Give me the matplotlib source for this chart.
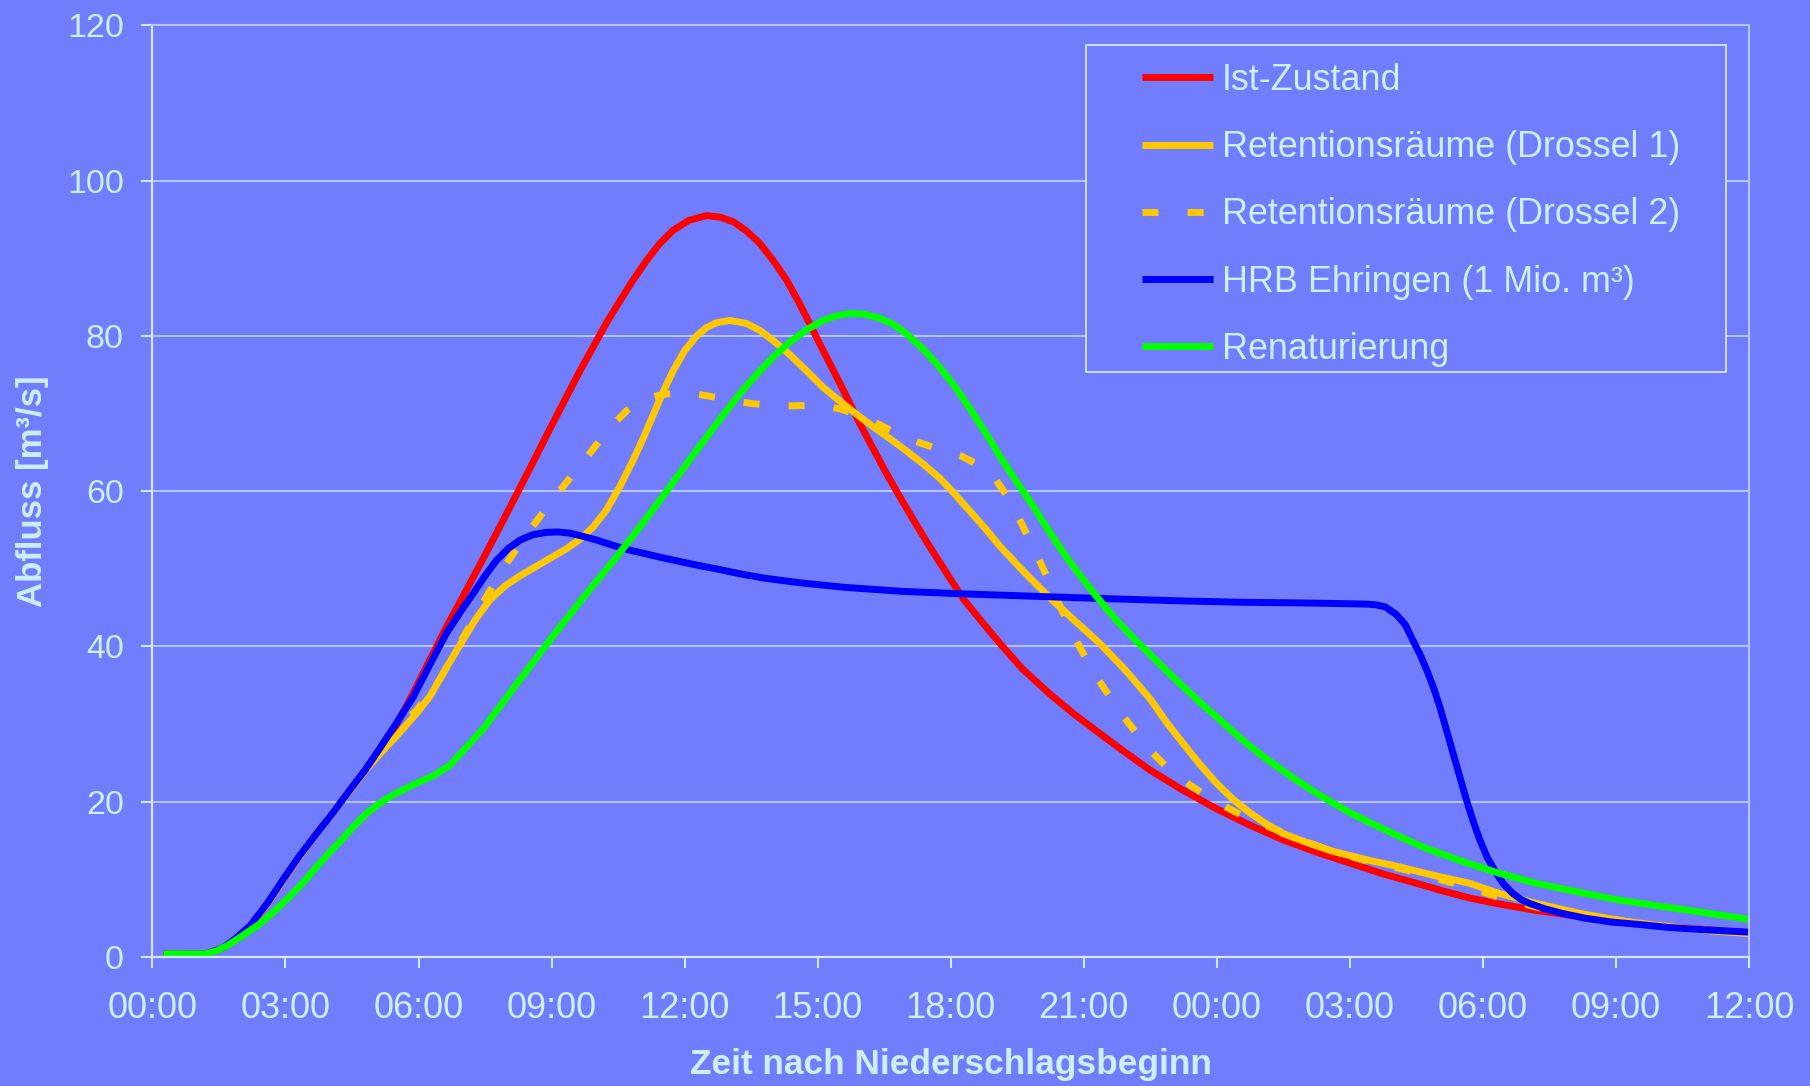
import matplotlib.pyplot as plt
from matplotlib.patches import Rectangle

# hours after start of rainfall and discharge in m3/s
t_ist = [0.25, 1.2, 1.6, 1.9, 2.2, 2.6, 2.95, 3.3, 3.7, 4.1, 4.45, 4.8, 5.2, 5.55, 5.88, 6.25,
         6.63, 7.0, 7.39, 7.76, 8.14, 8.5, 8.89, 9.34, 9.64, 9.94, 10.24, 10.54, 10.84, 11.14,
         11.44, 11.74, 12.1, 12.5, 12.8, 13.1, 13.4, 13.7, 14.0, 14.3, 14.56, 14.82, 15.08,
         15.35, 15.65, 15.95, 16.25, 16.55, 16.85, 17.15, 17.5, 17.98, 18.3, 18.7, 19.11, 19.6,
         20.23, 20.8, 21.36, 21.9, 22.49, 23.2, 23.99, 24.74, 25.49, 26.25, 27.0, 27.75, 28.5,
         29.1, 29.7, 30.3, 31.2, 32.2, 33.2, 34.2, 35.1, 36.0]
q_ist = [0.4, 0.4, 1.2, 2.4, 3.9, 6.9, 9.9, 12.8, 15.9, 18.8, 21.5, 24.1, 27.1, 30.4, 34.0, 38.2,
         42.5, 46.4, 50.6, 54.6, 58.8, 62.8, 67.2, 72.2, 75.5, 78.6, 81.7, 84.5, 87.2, 89.7,
         91.9, 93.6, 94.9, 95.5, 95.3, 94.7, 93.5, 91.9, 89.7, 87.2, 84.5, 81.6, 78.6,
         75.6, 72.2, 68.7, 65.5, 62.3, 59.3, 56.4, 53.1, 48.8, 46.0, 43.2, 40.4, 37.2,
         33.9, 31.2, 28.8, 26.5, 24.1, 21.6, 19.1, 17.0, 15.1, 13.5, 12.1, 10.7, 9.5,
         8.5, 7.6, 6.9, 6.0, 5.2, 4.5, 3.9, 3.5, 3.1]

t_dr1 = [0.25, 1.2, 1.6, 1.9, 2.2, 2.6, 2.95, 3.3, 3.7, 4.1, 4.45, 4.8, 5.15, 5.51, 5.96, 6.26,
         6.63, 7.01, 7.3, 7.61, 7.95, 8.29, 8.65, 9.04, 9.34, 9.64, 9.94, 10.24, 10.54, 10.84,
         11.05, 11.29, 11.5, 11.74, 12.0, 12.27, 12.5, 12.72, 13.02, 13.4, 13.7, 14.0, 14.37,
         14.75, 15.12, 15.5, 15.88, 16.25, 16.62, 17.0, 17.38, 17.75, 18.05, 18.36, 18.75, 19.11,
         19.67, 20.23, 20.8, 21.36, 21.9, 22.49, 22.87, 23.24, 23.62, 23.99, 24.37, 24.74, 25.1,
         25.49, 26.05, 26.62, 27.4, 28.12, 28.9, 29.7, 30.3, 31.2, 32.2, 33.2, 34.2, 35.1, 36.0]
q_dr1 = [0.4, 0.4, 1.2, 2.4, 3.9, 6.9, 9.9, 12.8, 15.9, 18.8, 21.4, 24.0, 26.3, 28.5, 31.4, 33.6,
         37.3, 40.9, 43.6, 46.0, 47.8, 49.1, 50.3, 51.6, 52.6, 53.8, 55.4, 57.6, 60.6, 64.0,
         66.6, 69.8, 72.6, 75.5, 78.1, 80.0, 81.1, 81.7, 82.0, 81.6, 80.7, 79.4, 77.6,
         75.5, 73.4, 71.6, 69.9, 68.3, 66.8, 65.2, 63.5, 61.7, 59.9, 57.9, 55.4, 52.9,
         49.5, 46.3, 43.3, 40.4, 37.2, 33.3, 30.2, 27.5, 24.8, 22.4, 20.3, 18.6, 17.2,
         15.9, 14.7, 13.6, 12.5, 11.6, 10.5, 9.5, 8.3, 6.9, 5.6, 4.6, 3.9, 3.4, 3.0]

t_dr2 = [0.25, 1.2, 1.6, 1.9, 2.2, 2.6, 2.95, 3.3, 3.7, 4.1, 4.45, 4.8, 5.2, 5.55, 5.96, 6.44,
         6.93, 7.42, 7.91, 8.51, 9.08, 9.71, 10.32, 10.7, 11.07, 11.55, 12.04, 12.5, 12.98,
         13.5, 14.0, 14.5, 15.01, 15.5, 15.99, 16.42, 16.85, 17.32, 17.79, 18.25, 18.69, 19.0,
         19.33, 19.55, 19.78, 20.0, 20.2, 20.4, 20.61, 20.83, 21.06, 21.32, 21.59, 21.88, 22.19,
         22.5, 22.83, 23.2, 23.62, 24.05, 24.48, 24.9, 25.38, 25.85, 26.32, 26.8, 27.3, 27.8,
         28.28, 28.75, 29.21, 29.8, 30.3, 30.8, 31.3, 32.2, 33.2, 34.2, 35.1, 36.0]
q_dr2 = [0.4, 0.4, 1.2, 2.4, 3.9, 6.9, 9.9, 12.8, 15.9, 18.8, 21.4, 24.0, 27.0, 29.6, 31.8, 35.3,
         40.4, 45.3, 50.1, 55.0, 59.3, 63.8, 68.2, 70.4, 71.9, 72.5, 72.7, 72.3, 71.8,
         71.3, 71.0, 71.0, 71.1, 70.6, 69.7, 68.5, 67.2, 66.2, 65.3, 64.5, 63.2, 61.6,
         58.9, 56.4, 53.7, 51.1, 48.6, 46.0, 43.4, 40.8, 38.3, 35.8, 33.5, 31.1, 28.8,
         26.6, 24.7, 22.9, 21.3, 19.8, 18.5, 17.4, 16.3, 15.2, 14.2, 13.3, 12.5, 11.8,
         11.2, 10.4, 9.7, 8.8, 7.8, 7.0, 6.3, 5.5, 4.6, 3.9, 3.4, 3.0]

t_hrb = [0.25, 1.2, 1.6, 1.9, 2.2, 2.6, 2.95, 3.3, 3.7, 4.1, 4.45, 4.8, 5.13, 5.5, 5.88, 6.25,
         6.63, 6.95, 7.23, 7.5, 7.76, 8.02, 8.29, 8.58, 8.89, 9.15, 9.41, 9.7, 10.02, 10.4,
         10.77, 11.15, 11.52, 11.93, 12.34, 12.8, 13.3, 13.8, 14.6, 15.64, 16.9, 18.16, 19.7,
         21.28, 23.0, 24.5, 26.0, 27.0, 27.4, 27.6, 27.8, 28.05, 28.25, 28.42, 28.58, 28.73,
         28.88, 29.03, 29.18, 29.33, 29.48, 29.63, 29.78, 29.93, 30.1, 30.3, 30.48, 30.67,
         30.86, 31.05, 31.4, 31.8, 32.3, 32.9, 33.5, 34.2, 35.0, 36.0]
q_hrb = [0.4, 0.4, 1.2, 2.5, 4.0, 7.0, 10.0, 12.9, 15.9, 18.8, 21.5, 24.1, 26.9, 30.1, 33.5, 37.6,
         41.7, 44.5, 46.8, 49.1, 51.1, 52.6, 53.7, 54.4, 54.7, 54.75, 54.6, 54.2, 53.7, 53.0,
         52.4, 51.9, 51.4, 50.9, 50.4, 49.9, 49.3, 48.8, 48.2, 47.6, 47.1, 46.8, 46.5,
         46.2, 45.9, 45.7, 45.6, 45.5, 45.45, 45.35, 45.1, 44.1, 42.8, 40.8, 39.0, 37.0,
         34.8, 32.2, 29.2, 26.2, 23.2, 20.2, 17.5, 15.1, 12.8, 10.8, 9.3, 8.2,
         7.4, 6.9, 6.2, 5.6, 5.0, 4.5, 4.2, 3.8, 3.5, 3.2]

t_ren = [0.25, 1.2, 1.45, 1.7, 2.05, 2.43, 2.75, 3.1, 3.4, 3.7, 4.0, 4.3, 4.55, 4.83, 5.1, 5.4,
         5.68, 5.96, 6.35, 6.71, 7.01, 7.46, 7.8, 8.14, 8.55, 8.96, 9.26, 9.8, 10.39, 10.8,
         11.15, 11.48, 11.8, 12.12, 12.5, 12.87, 13.25, 13.62, 14.0, 14.37, 14.75, 15.12, 15.42,
         15.73, 16.05, 16.4, 16.7, 17.0, 17.38, 17.75, 18.13, 18.51, 18.81, 19.11, 19.5, 19.87,
         20.2, 20.6, 20.95, 21.28, 21.7, 22.1, 22.49, 22.9, 23.32, 23.7, 24.0, 24.37, 24.74,
         25.1, 25.49, 25.87, 26.25, 26.6, 27.0, 27.38, 27.75, 28.2, 28.72, 29.2, 29.7, 30.3,
         31.2, 32.2, 33.1, 34.05, 35.0, 36.0]
q_ren = [0.4, 0.4, 0.8, 1.5, 2.8, 4.3, 5.9, 7.8, 9.6, 11.6, 13.5, 15.3, 16.9, 18.5, 19.7, 20.8,
         21.6, 22.4, 23.4, 24.7, 26.6, 29.4, 32.0, 34.6, 37.7, 40.8, 43.0, 46.9, 51.0, 54.0,
         56.6, 59.1, 61.6, 64.1, 67.0, 69.8, 72.6, 75.0, 77.3, 79.2, 80.8, 82.0, 82.6,
         82.9, 82.8, 82.3, 81.5, 80.3, 78.3, 76.0, 73.2, 70.0, 67.3, 64.5, 61.1, 58.0,
         55.0, 51.6, 48.9, 46.5, 43.6, 41.2, 39.0, 36.7, 34.4, 32.4, 30.9, 29.0, 27.2,
         25.6, 24.0, 22.5, 21.1, 19.9, 18.6, 17.5, 16.5, 15.3, 14.0, 13.0, 12.0, 10.9,
         9.5, 8.3, 7.3, 6.5, 5.7, 4.85]

labels = ['Ist-Zustand', 'Retentionsräume (Drossel 1)', 'Retentionsräume (Drossel 2)',
          'HRB Ehringen (1 Mio. m³)', 'Renaturierung']
x_ticks = [0, 3, 6, 9, 12, 15, 18, 21, 24, 27, 30, 33, 36]
x_ticklabels = ['00:00', '03:00', '06:00', '09:00', '12:00', '15:00', '18:00',
                '21:00', '00:00', '03:00', '06:00', '09:00', '12:00']
y_ticks = [0, 20, 40, 60, 80, 100, 120]

bg = '#717DFC'
txt = '#CCEEFF'
gridc = '#B4C2FF'
axc = '#D4E6FF'

plt.rcParams['font.family'] = ['Liberation Sans', 'DejaVu Sans']

fig = plt.figure(figsize=(18.1, 10.86), dpi=100, facecolor=bg)
ax = fig.add_axes([0.0842, 0.1188, 0.8821, 0.8578])
ax.set_facecolor(bg)

lw = 5.0
kw = dict(lw=lw, solid_joinstyle='round', solid_capstyle='butt')
ax.plot(t_ist, q_ist, color='#FF0000', label=labels[0], **kw)
ax.plot(t_dr1, q_dr1, color='#FFC800', label=labels[1], **kw)
ax.plot(t_dr2, q_dr2, color='#FFC800', lw=lw, linestyle=(0, (2.3, 4.2)),
        dash_capstyle='butt', label=labels[2])
ax.plot(t_hrb, q_hrb, color='#0000FF', label=labels[3], **kw)
ax.plot(t_ren, q_ren, color='#00FF00', label=labels[4], **kw)

ax.set_xlim(0, 36)
ax.set_ylim(0, 120)
ax.set_xticks(x_ticks)
ax.set_xticklabels(x_ticklabels)
ax.set_yticks(y_ticks)
ax.yaxis.grid(True, color=gridc, lw=1.5)
ax.set_axisbelow(True)

for s in ['left', 'bottom']:
    ax.spines[s].set_color(axc)
    ax.spines[s].set_linewidth(1.6)
for s in ['top', 'right']:
    ax.spines[s].set_color(gridc)
    ax.spines[s].set_linewidth(1.5)

ax.tick_params(axis='both', colors=axc, labelcolor=txt, length=8, width=1.5,
               direction='out')
ax.tick_params(axis='y', pad=12.5, labelsize=24.5)
ax.tick_params(axis='x', pad=16.5, labelsize=26)

ax.set_xlabel('Zeit nach Niederschlagsbeginn', fontsize=25.4, fontweight='bold',
              color=txt, va='center')
ax.xaxis.set_label_coords(0.5, -(1065 - 957) / 931.6)
ax.set_ylabel('Abfluss [m³/s]', fontsize=25, fontweight='bold', color=txt, va='center')
ax.yaxis.set_label_coords(-(152.4 - 32.5) / 1596.6, 0.5)

# legend frame drawn on its own, it is much wider than the entries
fig.patches.append(Rectangle((1086 / 1810, 1 - 372 / 1086), 640 / 1810, 327 / 1086,
                             transform=fig.transFigure, facecolor=bg,
                             edgecolor=axc, lw=1.3, zorder=5))
handles, names = ax.get_legend_handles_labels()
leg = fig.legend(handles, names, loc='upper left',
                 bbox_to_anchor=(1142 / 1810, 1 - 63 / 1086),
                 frameon=False, fontsize=25.8, handlelength=1.97, handletextpad=0.25,
                 labelspacing=0.9, borderpad=0, borderaxespad=0)
for tx in leg.get_texts():
    tx.set_color(txt)
leg.set_zorder(6)

fig.savefig('out.png', dpi=100, facecolor=bg)
